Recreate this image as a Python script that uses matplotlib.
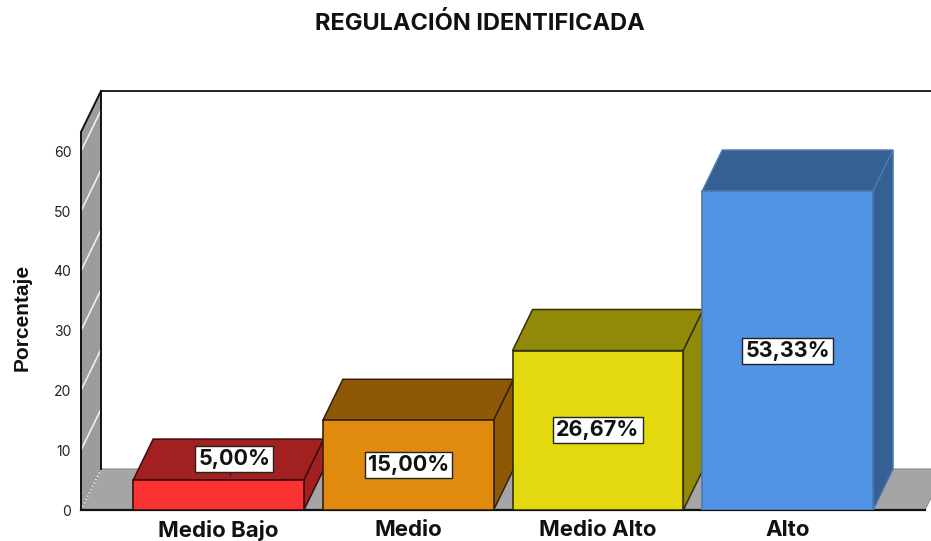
import matplotlib
matplotlib.use('Agg')
import matplotlib.pyplot as plt
from matplotlib.patches import Polygon

categorias = ['Medio Bajo', 'Medio', 'Medio Alto', 'Alto']
porcentajes = [5.00, 15.00, 26.67, 53.33]
etiquetas = ['5,00%', '15,00%', '26,67%', '53,33%']
yticks = [0, 10, 20, 30, 40, 50, 60]

frente = ['#fb3333', '#e08a0e', '#e3d90e', '#5193e5']
arriba = ['#a32020', '#8f5807', '#908a08', '#356093']
bordes = ['#3a0c0c', '#33200a', '#33300a', '#4a78b0']

plt.rcParams['font.family'] = ['Inter', 'Liberation Sans', 'DejaVu Sans']

W, H = 931, 541
fig = plt.figure(figsize=(W / 100, H / 100), dpi=100)
# axes box = front floor edge up to the top of the back wall, in pixels
x0, x1, ybase, ytop = 81, 925, 510, 91
ax = fig.add_axes([x0 / W, 1 - ybase / H, (x1 - x0) / W, (ybase - ytop) / H])
ax.set_xlim(-0.725, 3.724)
ax.set_ylim(0, 70.07)
for s in ax.spines.values():
    s.set_visible(False)

# fake 3d depth, in data units
dx = 0.1054
dy = 6.86
ancho = 0.45
xl, xr = ax.get_xlim()
ymax = ax.get_ylim()[1]

# side wall
ax.add_patch(Polygon([(xl, 0), (xl + dx, dy), (xl + dx, ymax), (xl, ymax - dy)],
                     fc='#9c9c9c', ec='none', zorder=1, clip_on=False))
# floor
ax.add_patch(Polygon([(xl, 0), (xl + dx, dy), (xr + dx, dy), (xr, 0)],
                     fc='#a5a5a5', ec='#8c8c8c', lw=0.8, zorder=1, clip_on=False))
for t in yticks[1:]:
    ax.plot([xl, xl + dx], [t, t + dy], color='#eeeeee', lw=1.2, zorder=2, clip_on=False)
ax.plot([xl, xl + dx], [0, dy], color='white', lw=1, ls=':', zorder=2, clip_on=False)
# frame lines
ax.plot([xl, xl], [0, ymax - dy], color='#111111', lw=1.4, zorder=3, clip_on=False)
ax.plot([xl, xl + dx], [ymax - dy, ymax], color='#111111', lw=1.4, zorder=3, clip_on=False)
ax.plot([xl + dx, xl + dx], [dy, ymax], color='#111111', lw=1.4, zorder=3, clip_on=False)
ax.plot([xl + dx, xr + 1], [ymax, ymax], color='#111111', lw=1.3, zorder=3, clip_on=False)
ax.plot([xl, xr], [0, 0], color='#111111', lw=1.6, zorder=3, clip_on=False)

for i, v in enumerate(porcentajes):
    a, b = i - ancho, i + ancho
    z = 4 + i
    ax.add_patch(Polygon([(a, 0), (b, 0), (b, v), (a, v)], fc=frente[i], ec=bordes[i], lw=1.2, zorder=z + 0.2))
    ax.add_patch(Polygon([(a, v), (b, v), (b + dx, v + dy), (a + dx, v + dy)],
                         fc=arriba[i], ec=bordes[i], lw=1.1, zorder=z))
    ax.add_patch(Polygon([(b, 0), (b + dx, dy), (b + dx, v + dy), (b, v)],
                         fc=arriba[i], ec=bordes[i], lw=1.1, zorder=z))

caja = dict(boxstyle='square,pad=0.14', fc='white', ec='#222222', lw=1)
for i, v in enumerate(porcentajes):
    # the smallest bar has its label pushed up onto the top face
    px = i + 0.083 if i == 0 else i
    py = v + 3.6 if i == 0 else v / 2
    if i == 0:
        ax.plot([px - 0.025, px - 0.025], [py, v + 0.9], color='#222222', lw=1, zorder=9)
    ax.text(px, py, etiquetas[i], ha='center', va='center', fontsize=15.5, fontweight='bold',
            color='#111111', bbox=caja, zorder=10)

ax.set_yticks(yticks)
ax.set_xticks(range(len(categorias)))
ax.set_xticklabels(categorias, fontsize=16, fontweight='bold', color='#111111')
ax.tick_params(axis='x', length=0, pad=7)
ax.tick_params(axis='y', length=0, pad=7, labelsize=10, labelcolor='#222222')
ax.patch.set_alpha(0)

fig.text(480 / W, 1 - 24 / H, 'REGULACIÓN IDENTIFICADA', ha='center', va='center',
         fontsize=17, fontweight='bold', color='#111111')
fig.text(22 / W, 1 - 317 / H, 'Porcentaje', rotation=90, ha='center', va='center', fontsize=15,
         fontweight='bold', family=['Liberation Sans Narrow', 'Liberation Sans'], color='#111111')

fig.savefig('out.png', dpi=100)
